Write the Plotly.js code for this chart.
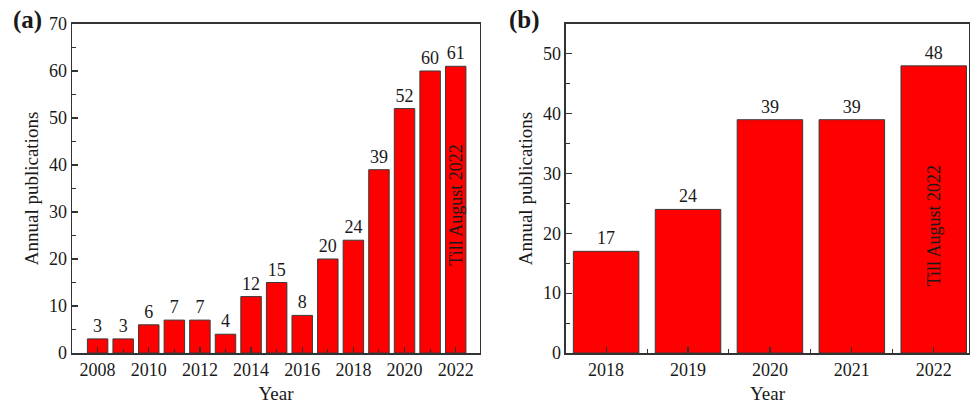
<!DOCTYPE html>
<html>
<head>
<meta charset="utf-8">
<script src="https://cdn.plot.ly/plotly-3.0.1.min.js"></script>
<style>
  html, body { margin: 0; padding: 0; background: #fff; }
  #chart { width: 976px; height: 410px; }
</style>
</head>
<body>
<div id="chart"></div>
<script>
// Annual publications, 2008–2022 (panel a)
const yearsA = [2008, 2009, 2010, 2011, 2012, 2013, 2014, 2015, 2016, 2017, 2018, 2019, 2020, 2021, 2022];
const pubsA  = [3, 3, 6, 7, 7, 4, 12, 15, 8, 20, 24, 39, 52, 60, 61];

// Annual publications, 2018–2022 (panel b)
const yearsB = [2018, 2019, 2020, 2021, 2022];
const pubsB  = [17, 24, 39, 39, 48];

const partialNote = 'Till August 2022';
const panelLabels = ['(a)', '(b)'];

const FONT = "'Liberation Serif', 'Times New Roman', serif";
const INK = '#1a1a1a';
const LINE = '#333';
const RED = '#ff0000';

function barTrace(x, y, xa, ya) {
  return {
    type: 'bar',
    x: x, y: y,
    xaxis: xa, yaxis: ya,
    width: 0.8,
    marker: { color: RED, line: { color: '#3a3a3a', width: 1 } },
    text: y.map(String),
    textposition: 'outside',
    textfont: { family: FONT, size: 18, color: INK },
    cliponaxis: false,
    hoverinfo: 'x+y'
  };
}

const baseAxis = {
  showline: true, mirror: true, linecolor: LINE, linewidth: 1.5,
  ticks: 'inside', ticklen: 6, tickwidth: 1.2, tickcolor: LINE,
  showgrid: false, zeroline: false,
  tickfont: { family: FONT, size: 18, color: INK },
  fixedrange: true
};

const layout = {
  width: 976, height: 410,
  margin: { l: 0, r: 0, t: 0, b: 0 },
  paper_bgcolor: '#fff', plot_bgcolor: '#fff',
  showlegend: false,
  bargap: 0.2,
  font: { family: FONT, color: INK },
  xaxis: Object.assign({}, baseAxis, {
    domain: [0.0738, 0.4918], anchor: 'y',
    range: [2007, 2022.95],
    tickmode: 'linear', tick0: 2008, dtick: 2,
    minor: { ticks: 'inside', ticklen: 4, tickwidth: 1, tickcolor: LINE, dtick: 1, tick0: 2008 },
    title: { text: 'Year', font: { family: FONT, size: 19, color: INK }, standoff: 7 }
  }),
  yaxis: Object.assign({}, baseAxis, {
    domain: [0.139, 0.9415], anchor: 'x',
    range: [0, 70], dtick: 10,
    minor: { ticks: 'inside', ticklen: 4, tickwidth: 1, tickcolor: LINE, dtick: 5 },
    title: { text: 'Annual publications', font: { family: FONT, size: 19, color: INK }, standoff: 5 }
  }),
  xaxis2: Object.assign({}, baseAxis, {
    domain: [0.5799, 0.9928], anchor: 'y2',
    range: [2017.51, 2022.43],
    tickmode: 'linear', tick0: 2018, dtick: 1,
    minor: { ticks: 'inside', ticklen: 4, tickwidth: 1, tickcolor: LINE, dtick: 0.5, tick0: 2018 },
    title: { text: 'Year', font: { family: FONT, size: 19, color: INK }, standoff: 7 }
  }),
  yaxis2: Object.assign({}, baseAxis, {
    domain: [0.139, 0.9415], anchor: 'x2',
    range: [0, 55], dtick: 10,
    minor: { ticks: 'inside', ticklen: 4, tickwidth: 1, tickcolor: LINE, dtick: 5 },
    title: { text: 'Annual publications', font: { family: FONT, size: 19, color: INK }, standoff: 5 }
  }),
  annotations: [
    { xref: 'x', yref: 'y', x: yearsA[yearsA.length - 1], y: 31.5,
      text: partialNote, textangle: -90, showarrow: false,
      font: { family: FONT, size: 18, color: INK } },
    { xref: 'x2', yref: 'y2', x: yearsB[yearsB.length - 1], y: 21.3,
      text: partialNote, textangle: -90, showarrow: false,
      font: { family: FONT, size: 18, color: INK } },
    { xref: 'paper', yref: 'paper', x: 0.0285, y: 0.952, xanchor: 'center', yanchor: 'middle',
      text: '<b>' + panelLabels[0] + '</b>', showarrow: false,
      font: { family: FONT, size: 25, color: INK } },
    { xref: 'paper', yref: 'paper', x: 0.537, y: 0.952, xanchor: 'center', yanchor: 'middle',
      text: '<b>' + panelLabels[1] + '</b>', showarrow: false,
      font: { family: FONT, size: 25, color: INK } }
  ]
};

Plotly.newPlot('chart', [
  barTrace(yearsA, pubsA, 'x', 'y'),
  barTrace(yearsB, pubsB, 'x2', 'y2')
], layout, { displayModeBar: false, staticPlot: true });
</script>
</body>
</html>
